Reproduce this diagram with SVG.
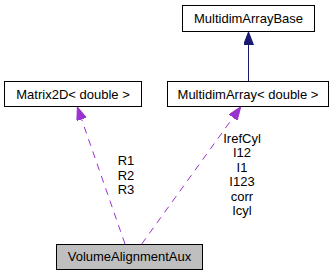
<svg xmlns="http://www.w3.org/2000/svg" width="336" height="276" viewBox="0 0 336 276">
  <style>
    .box { fill: #ffffff; stroke: #000000; stroke-width: 1; }
    .box.current { fill: #bfbfbf; }
    text { font-family: "Liberation Sans", Arial, sans-serif; font-size: 13px; fill: #000000; text-anchor: middle; }
    .inherit { fill: none; stroke: #191970; stroke-width: 1; }
    .usage { fill: none; stroke: #9a32cd; stroke-width: 1; stroke-dasharray: 7,6; }
  </style>
  <defs>
    <marker id="headNavy" markerUnits="userSpaceOnUse" viewBox="0 0 13 10" refX="0" refY="5" markerWidth="13" markerHeight="10" orient="auto">
      <path d="M0,0 L13,5 L0,10 z" fill="#191970" stroke="#191970" stroke-width="1"/>
    </marker>
    <marker id="headPurple" markerUnits="userSpaceOnUse" viewBox="0 0 13 10" refX="0" refY="5" markerWidth="13" markerHeight="10" orient="auto">
      <path d="M0,0 L13,5 L0,10 z" fill="#9a32cd" stroke="#9a32cd" stroke-width="1"/>
    </marker>
  </defs>

  <g id="connectors">
    <path class="inherit" d="M248.5,81 L248.5,45" marker-end="url(#headNavy)"/>
    <path class="usage" d="M125,244 L81.6,119.3" marker-end="url(#headPurple)"/>
    <path class="usage" d="M141.7,244 L233.1,117.5" marker-end="url(#headPurple)"/>
    <text x="126" y="165">R1</text>
    <text x="126" y="179.5">R2</text>
    <text x="126" y="194">R3</text>
    <text x="242" y="142.5">IrefCyl</text>
    <text x="242" y="157">I12</text>
    <text x="242" y="171.5">I1</text>
    <text x="242" y="186">I123</text>
    <text x="242" y="200.5">corr</text>
    <text x="242" y="215">Icyl</text>
  </g>

  <g id="node-multidimarraybase">
    <rect class="box" x="182.5" y="5.5" width="132" height="26"/>
    <text x="248.5" y="23">MultidimArrayBase</text>
  </g>

  <g id="node-matrix2d">
    <rect class="box" x="4.5" y="81.5" width="137" height="25"/>
    <text x="73" y="98.5">Matrix2D&lt; double &gt;</text>
  </g>

  <g id="node-multidimarray">
    <rect class="box" x="167.5" y="81.5" width="161" height="25"/>
    <text x="248" y="98.5">MultidimArray&lt; double &gt;</text>
  </g>

  <g id="node-volumealignmentaux">
    <rect class="box current" x="56.5" y="244.5" width="146" height="25"/>
    <text x="129.5" y="261">VolumeAlignmentAux</text>
  </g>
</svg>
